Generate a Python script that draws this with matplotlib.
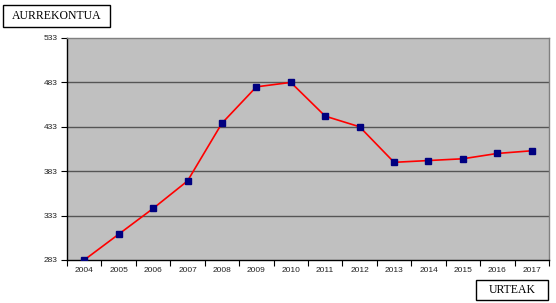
import matplotlib
matplotlib.use("Agg")
import matplotlib.pyplot as plt
from matplotlib.patches import Rectangle
from matplotlib.ticker import FixedLocator, NullFormatter

# data
years = [2004, 2005, 2006, 2007, 2008, 2009, 2010,
         2011, 2012, 2013, 2014, 2015, 2016, 2017]
budget = [283, 312, 341, 372, 437, 478, 483,
          445, 433, 393, 395, 397, 403, 406]
yticks = [283, 333, 383, 433, 483, 533]

W, H = 556, 303
fig = plt.figure(figsize=(W / 100, H / 100), dpi=100)
fig.patch.set_facecolor("white")
ax = fig.add_axes([67/W, 43/H, 482/W, 222/H])
ax.set_facecolor("#c0c0c0")

xs = list(range(len(years)))
ax.plot(xs, budget, color="#ff0000", linewidth=1.2, zorder=3)
ax.plot(xs, budget, linestyle="none", marker="s", markersize=5,
        markerfacecolor="#000080", markeredgecolor="#000080", zorder=4)

ax.set_xlim(-0.5, len(years) - 0.5)
ax.set_ylim(283, 533)
ax.set_yticks(yticks)
ax.set_yticklabels([str(v) for v in yticks])
for v in yticks[1:-1]:
    ax.axhline(v, color="#555555", linewidth=1.0, zorder=1)

ax.set_xticks(xs)
ax.set_xticklabels([str(y) for y in years])
ax.tick_params(axis="x", which="major", length=0, pad=5)
ax.xaxis.set_minor_locator(FixedLocator([i - 0.5 for i in range(len(years) + 1)]))
ax.xaxis.set_minor_formatter(NullFormatter())
ax.tick_params(axis="x", which="minor", length=4, width=0.8, color="black", direction="out")
ax.tick_params(axis="y", length=4, width=0.8, direction="out", pad=3)

for lab in ax.get_xticklabels() + ax.get_yticklabels():
    lab.set_fontfamily("Liberation Sans")
    lab.set_fontsize(6)
    lab.set_color("#222222")

ax.spines["left"].set_color("black")
ax.spines["bottom"].set_color("black")
ax.spines["top"].set_color("#808080")
ax.spines["right"].set_color("#808080")
for s in ax.spines.values():
    s.set_linewidth(1.0)


# label boxes, drawn in pixel units of the figure
def label_box(x0, y0, x1, y1, text):
    fig.add_artist(Rectangle((x0 / W, 1 - y1 / H), (x1 - x0) / W, (y1 - y0) / H,
                             transform=fig.transFigure, facecolor="white",
                             edgecolor="black", linewidth=1.0))
    fig.text((x0 + x1) / 2 / W, 1 - (y0 + y1) / 2 / H, text,
             fontfamily="Liberation Serif", fontsize=8.5, ha="center", va="center")


label_box(3, 5, 110, 27, "AURREKONTUA")
label_box(476, 280, 548, 300, "URTEAK")

fig.savefig("out.png", dpi=100)
